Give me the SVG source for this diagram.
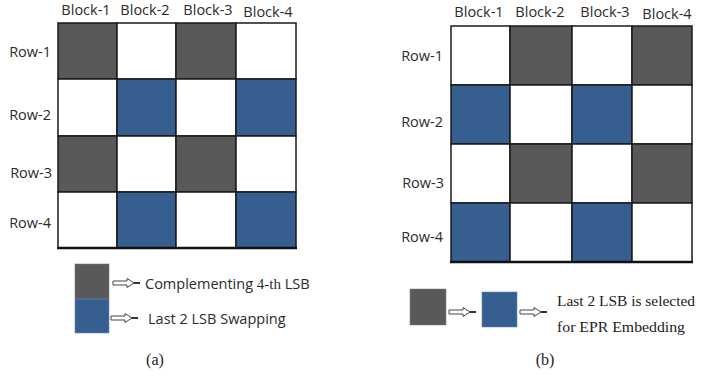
<svg xmlns="http://www.w3.org/2000/svg" width="701" height="377" viewBox="0 0 701 377">
<defs>
<style>
.lbl{font-family:"Open Sans","Liberation Sans",sans-serif;font-size:14.5px;fill:#2b2b2b;}
.g{fill:#595959;}
.b{fill:#365e8e;}
.w{fill:#fff;}
.cell{stroke:#1a1a1a;stroke-width:1.5;}
.ser{font-family:"Liberation Serif","Times New Roman",serif;fill:#222;}
.arr{fill:#fff;stroke:#444;stroke-width:1;}
</style>
<g id="arrowshape">
<path class="arr" d="M0,-2 H14 V-4.5 L21,0 L14,4.5 V2 H0 Z"/>
<line x1="21" y1="0" x2="27" y2="0" stroke="#333" stroke-width="2"/>
</g>
</defs>
<rect width="701" height="377" fill="#fff"/>

<g id="gridA">
<rect class="cell g" x="58" y="23" width="59" height="56"/>
<rect class="cell w" x="117" y="23" width="59" height="56"/>
<rect class="cell g" x="176" y="23" width="60" height="56"/>
<rect class="cell w" x="236" y="23" width="60" height="56"/>
<rect class="cell w" x="58" y="79" width="59" height="57"/>
<rect class="cell b" x="117" y="79" width="59" height="57"/>
<rect class="cell w" x="176" y="79" width="60" height="57"/>
<rect class="cell b" x="236" y="79" width="60" height="57"/>
<rect class="cell g" x="58" y="136" width="59" height="56"/>
<rect class="cell w" x="117" y="136" width="59" height="56"/>
<rect class="cell g" x="176" y="136" width="60" height="56"/>
<rect class="cell w" x="236" y="136" width="60" height="56"/>
<rect class="cell w" x="58" y="192" width="59" height="56"/>
<rect class="cell b" x="117" y="192" width="59" height="56"/>
<rect class="cell w" x="176" y="192" width="60" height="56"/>
<rect class="cell b" x="236" y="192" width="60" height="56"/>
<line x1="57" y1="248" x2="297" y2="248" stroke="#111" stroke-width="2.5"/>
<text class="lbl" x="86" y="15" text-anchor="middle">Block-1</text>
<text class="lbl" x="145" y="15" text-anchor="middle">Block-2</text>
<text class="lbl" x="208" y="15" text-anchor="middle">Block-3</text>
<text class="lbl" x="268" y="17" text-anchor="middle">Block-4</text>
<text class="lbl" x="51" y="57" text-anchor="end">Row-1</text>
<text class="lbl" x="51" y="120" text-anchor="end">Row-2</text>
<text class="lbl" x="52" y="178" text-anchor="end">Row-3</text>
<text class="lbl" x="51" y="228" text-anchor="end">Row-4</text>
</g>

<g id="gridB">
<rect class="cell w" x="451" y="26" width="59" height="59"/>
<rect class="cell g" x="510" y="26" width="62" height="59"/>
<rect class="cell w" x="572" y="26" width="60" height="59"/>
<rect class="cell g" x="632" y="26" width="60" height="59"/>
<rect class="cell b" x="451" y="85" width="59" height="59"/>
<rect class="cell w" x="510" y="85" width="62" height="59"/>
<rect class="cell b" x="572" y="85" width="60" height="59"/>
<rect class="cell w" x="632" y="85" width="60" height="59"/>
<rect class="cell w" x="451" y="144" width="59" height="59"/>
<rect class="cell g" x="510" y="144" width="62" height="59"/>
<rect class="cell w" x="572" y="144" width="60" height="59"/>
<rect class="cell g" x="632" y="144" width="60" height="59"/>
<rect class="cell b" x="451" y="203" width="59" height="59"/>
<rect class="cell w" x="510" y="203" width="62" height="59"/>
<rect class="cell b" x="572" y="203" width="60" height="59"/>
<rect class="cell w" x="632" y="203" width="60" height="59"/>
<line x1="450" y1="262" x2="693" y2="262" stroke="#111" stroke-width="2.5"/>
<text class="lbl" x="479" y="17" text-anchor="middle">Block-1</text>
<text class="lbl" x="540" y="17" text-anchor="middle">Block-2</text>
<text class="lbl" x="605" y="17" text-anchor="middle">Block-3</text>
<text class="lbl" x="667" y="19" text-anchor="middle">Block-4</text>
<text class="lbl" x="443" y="61" text-anchor="end">Row-1</text>
<text class="lbl" x="443" y="127" text-anchor="end">Row-2</text>
<text class="lbl" x="444" y="188" text-anchor="end">Row-3</text>
<text class="lbl" x="443" y="242" text-anchor="end">Row-4</text>
</g>

<g id="legendA">
<rect class="g" x="75" y="264" width="34" height="35" stroke="#777" stroke-width="0.6"/>
<rect class="b" x="75" y="299" width="34" height="34" stroke="#6a87aa" stroke-width="0.6"/>
<use href="#arrowshape" x="113" y="283"/>
<use href="#arrowshape" x="111" y="318"/>
<text class="lbl" x="145" y="289" font-size="15.5">Complementing <tspan font-family="Liberation Serif, serif" font-size="15">4-th</tspan> LSB</text>
<text class="lbl" x="148" y="324" font-size="15">Last 2 LSB Swapping</text>
<text class="ser" x="155" y="365" font-size="16" text-anchor="middle">(a)</text>
</g>

<g id="legendB">
<rect class="g" x="410" y="289" width="36" height="36" stroke="#888" stroke-width="0.6"/>
<use href="#arrowshape" x="449" y="312"/>
<rect class="b" x="482" y="292" width="35" height="35" stroke="#6a87aa" stroke-width="0.6"/>
<use href="#arrowshape" x="520" y="312"/>
<text class="ser" x="557" y="306" font-size="15.5" textLength="138" lengthAdjust="spacingAndGlyphs">Last 2 LSB is selected</text>
<text class="ser" x="557" y="332" font-size="15.5" textLength="128" lengthAdjust="spacingAndGlyphs">for EPR Embedding</text>
<text class="ser" x="545" y="365" font-size="16" text-anchor="middle">(b)</text>
</g>
</svg>
